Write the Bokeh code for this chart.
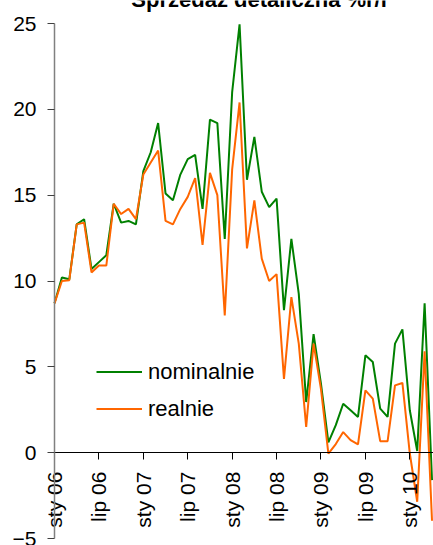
from math import pi
from bokeh.plotting import figure
from bokeh.models import Range1d, FixedTicker, Label
from bokeh.embed import file_html
from bokeh.resources import INLINE

# --- data (monthly, sty 06 .. kwi 10) ---
title_text = "Sprzedaż detaliczna %r/r"
series_names = ["nominalnie", "realnie"]
nominal = [8.7, 10.2, 10.1, 13.3, 13.6, 10.7, 11.1, 11.5, 14.5, 13.4, 13.5, 13.3,
           16.4, 17.5, 19.2, 15.1, 14.7, 16.2, 17.1, 17.35, 14.2, 19.4, 19.2, 12.45,
           21.0, 24.95, 15.9, 18.4, 15.2, 14.3, 14.8, 8.3, 12.45, 9.25, 2.95, 6.9,
           4.0, 0.6, 1.6, 2.85, 2.47, 2.08, 5.67, 5.28, 2.57, 2.08, 6.35, 7.18,
           2.47, 0.1, 8.7, -1.6]
real = [8.7, 10.0, 10.05, 13.3, 13.4, 10.5, 10.9, 10.9, 14.5, 13.9, 14.2, 13.6,
        16.2, 16.9, 17.6, 13.5, 13.3, 14.2, 14.9, 16.0, 12.1, 16.3, 15.0, 8.0,
        16.5, 20.4, 11.9, 14.7, 11.3, 10.0, 10.4, 4.3, 9.06, 6.35, 1.5, 6.35,
        3.7, -0.05, 0.5, 1.2, 0.73, 0.48, 3.63, 3.15, 0.67, 0.67, 3.92, 4.06,
        -0.05, -2.86, 5.9, -3.97]
x_tick_pos = [0, 6, 12, 18, 24, 30, 36, 42, 48]
x_tick_labels = ["sty 06", "lip 06", "sty 07", "lip 07", "sty 08",
                 "lip 08", "sty 09", "lip 09", "sty 10"]
y_ticks = [-5, 0, 5, 10, 15, 20, 25]

x = list(range(len(nominal)))

FONT = "Liberation Sans"

# layout (pixels): plot area inside a 433x545 canvas
W, H = 433, 545
LEFT, TOP, BOTTOM = 54, 23, 7
X0, X1 = 0, 51.2
Y0, Y1 = -5, 25
ppx = (W - LEFT) / (X1 - X0)
ppy = (H - TOP - BOTTOM) / (Y1 - Y0)

p = figure(width=W, height=H,
           x_range=Range1d(X0 - LEFT / ppx, X1),
           y_range=Range1d(Y0 - BOTTOM / ppy, Y1 + TOP / ppy),
           output_backend="svg", toolbar_location=None, min_border=0)
p.outline_line_color = None
p.xgrid.visible = False
p.ygrid.visible = False

p.line(x, nominal, color="#008000", line_width=2, legend_label=series_names[0])
p.line(x, real, color="#FF6600", line_width=2, legend_label=series_names[1])

# y axis (at x = 0)
ya = p.yaxis[0]
ya.fixed_location = X0
ya.bounds = (Y0, Y1)
ya.ticker = FixedTicker(ticks=y_ticks)
ya.axis_line_color = "#808080"
ya.axis_line_width = 1.5
ya.major_tick_line_color = "#404040"
ya.major_tick_out = 7
ya.major_tick_in = 0
ya.minor_tick_line_color = None
ya.major_label_standoff = 11
ya.major_label_text_font = FONT
ya.major_label_text_font_size = "21px"
ya.major_label_text_color = "#000000"

# x axis crossing at y = 0
xa = p.xaxis[0]
xa.fixed_location = 0
xa.bounds = (X0, X1)
xa.ticker = FixedTicker(ticks=x_tick_pos)
xa.major_label_overrides = {t: l for t, l in zip(x_tick_pos, x_tick_labels)}
xa.major_label_orientation = pi / 2
xa.axis_line_color = "#000000"
xa.axis_line_width = 1
xa.major_tick_line_color = "#000000"
xa.major_tick_out = 7
xa.major_tick_in = 0
xa.minor_tick_line_color = None
xa.major_label_standoff = 12
xa.major_label_text_font = FONT
xa.major_label_text_font_size = "21px"
xa.major_label_text_color = "#000000"

# legend
lg = p.legend[0]
lg.location = (96, 118)
lg.border_line_color = None
lg.background_fill_alpha = 0
lg.padding = 0
lg.margin = 0
lg.spacing = 0
lg.glyph_width = 46
lg.glyph_height = 37
lg.label_standoff = 6
lg.label_text_font = FONT
lg.label_text_font_size = "22px"
lg.label_text_color = "#000000"

# title (partly cut off at the top of the picture)
p.add_layout(Label(x=27.8, y=Y1 + (TOP + 1) / ppy, text=title_text,
                   text_align="center", text_baseline="middle", text_font=FONT,
                   text_font_style="bold", text_font_size="22px",
                   text_color="#000000"))

open("out.html", "w").write(file_html(p, INLINE))
